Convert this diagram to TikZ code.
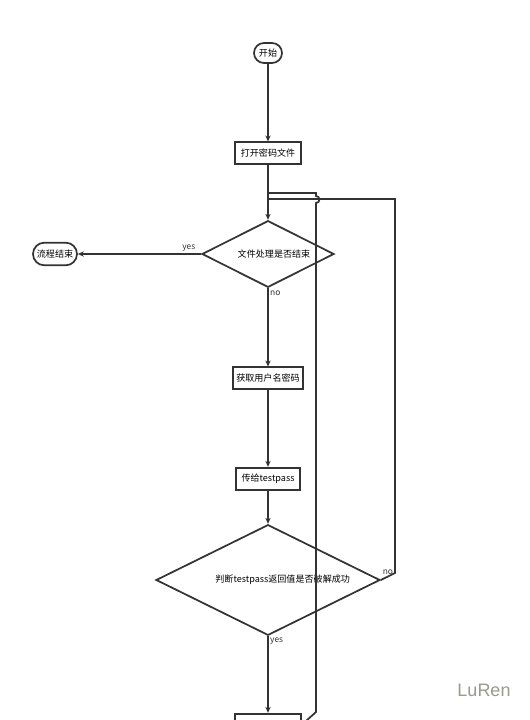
\documentclass[tikz,border=0pt]{standalone}
\usepackage{fontspec}
\setmainfont{Noto Sans CJK SC}
\newfontfamily\markfont{Liberation Sans}
\usetikzlibrary{arrows.meta,shapes.geometric,shapes.misc}
\definecolor{FlowInk}{RGB}{51,51,51}
\definecolor{FlowMark}{RGB}{150,155,140}
\tikzset{
  flow/term/.style={
    rounded rectangle,
    draw=FlowInk,
    line width=1.3pt,
    fill=white,
    text=black,
    inner sep=1pt,
    minimum height=15pt,
    font=\fontsize{6.8}{8}\selectfont
  },
  flow/box/.style={
    rectangle,
    draw=FlowInk,
    line width=1.3pt,
    fill=white,
    text=black,
    inner sep=1pt,
    minimum height=16pt,
    font=\fontsize{6.8}{8}\selectfont
  },
  flow/decision/.style={
    diamond,
    draw=FlowInk,
    line width=1.3pt,
    fill=white,
    text=black,
    inner sep=0pt,
    shape aspect=2,
    font=\fontsize{6.8}{8}\selectfont
  },
  flow/arrow/.style={-{Stealth[length=4.5pt,width=4pt]}, line width=1.3pt, draw=FlowInk},
  flow/line/.style={line width=1.3pt, draw=FlowInk},
  flow/label/.style={font=\fontsize{6.3}{7}\selectfont, text=FlowInk, inner sep=1pt},
  flow/mark/.style={font=\markfont\fontsize{13.5}{15}\selectfont, text=FlowMark}
}
\begin{document}
\begin{tikzpicture}[x=0.75pt,y=-0.75pt]
  \useasboundingbox (0,0) rectangle (529,720);
  \node[flow/term, minimum width=23pt] (start) at (268,53) {开始};
  \node[flow/box, minimum width=49pt] (open) at (268,153) {打开密码文件};
  \node[flow/decision, minimum width=99pt, minimum height=50pt] (check) at (268,254) {\hspace{9pt}文件处理是否结束};
  \node[flow/term, minimum width=35pt, minimum height=17pt] (stop) at (55,254) {流程结束};
  \node[flow/box, minimum width=52pt] (getpw) at (268,378) {获取用户名密码};
  \node[flow/box, minimum width=48pt, minimum height=17pt] (pass) at (268,479) {传给testpass};
  \node[flow/decision, minimum width=168pt, minimum height=83pt] (judge) at (268,580) {\hspace{22pt}判断testpass返回值是否破解成功};
  \node[flow/box, minimum width=49pt, minimum height=17pt] (last) at (268,725) {};
  \coordinate (joinlow) at (268,199);
  \coordinate (jointop) at (268,193);
  \draw[flow/arrow] (start) -- (open);
  \draw[flow/arrow] (open) -- (check);
  \draw[flow/arrow] (check.west) -- node[flow/label, above, pos=0.1] {yes} (stop);
  \draw[flow/arrow] (check.south) -- node[flow/label, right, pos=0.07] {no} (getpw);
  \draw[flow/arrow] (getpw) -- (pass);
  \draw[flow/arrow] (pass) -- (judge);
  \draw[flow/arrow] (judge.south) -- node[flow/label, right, pos=0.07] {yes} (last);
  % loop back when not cracked
  \draw[flow/line] (judge.east) -- node[flow/label, above, pos=0.5] {no} (395,573) -- (395,199) -- (joinlow);
  % loop back from the last step, hopping over the other line
  \draw[flow/line] (last.east) -- (316,712) -- (316,203)
    .. controls (320.5,203) and (320.5,196) .. (316,196) -- (316,193) -- (jointop);
  \node[flow/mark] (sign) at (484,690) {LuRen};
\end{tikzpicture}
\end{document}
